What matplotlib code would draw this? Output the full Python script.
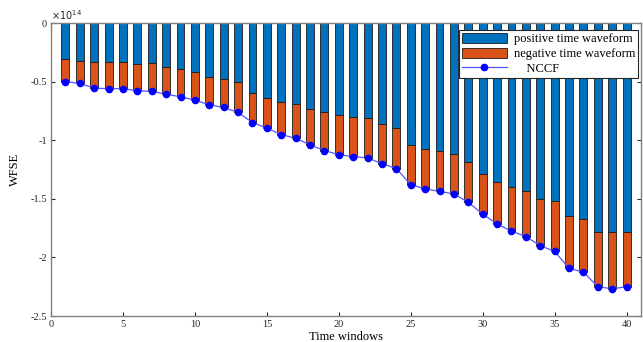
import matplotlib
matplotlib.use("Agg")
import matplotlib.pyplot as plt
import numpy as np
from matplotlib.ticker import FuncFormatter

plt.rcParams['font.family'] = ['Liberation Serif', 'DejaVu Serif']

# WFSE per time window, in units of 1e14
windows = np.arange(1, 41)
positive = [-0.31, -0.32, -0.336, -0.336, -0.33, -0.348, -0.339, -0.373, -0.39, -0.419,
            -0.459, -0.481, -0.507, -0.595, -0.638, -0.67, -0.687, -0.73, -0.761, -0.785,
            -0.80, -0.809, -0.858, -0.90, -1.04, -1.074, -1.091, -1.117, -1.182, -1.287,
            -1.353, -1.399, -1.433, -1.501, -1.521, -1.647, -1.672, -1.78, -1.78, -1.78]
nccf = [-0.50, -0.515, -0.556, -0.56, -0.56, -0.578, -0.584, -0.607, -0.63, -0.658,
        -0.698, -0.72, -0.763, -0.849, -0.897, -0.952, -0.983, -1.04, -1.088, -1.124,
        -1.14, -1.151, -1.20, -1.242, -1.379, -1.416, -1.436, -1.459, -1.53, -1.631,
        -1.715, -1.775, -1.823, -1.90, -1.949, -2.094, -2.125, -2.25, -2.268, -2.25]
scale = 1e14

pos = np.array(positive) * scale
tot = np.array(nccf) * scale
neg = tot - pos

fig = plt.figure(figsize=(6.43, 3.42), dpi=100)
ax = fig.add_axes([0.0793, 0.076, 0.9176, 0.8567])

b1 = ax.bar(windows, pos, width=0.55, color='#0072BD', edgecolor='#1a1a1a', linewidth=0.6,
            zorder=2)
b2 = ax.bar(windows, neg, bottom=pos, width=0.55, color='#D95319', edgecolor='#1a1a1a',
            linewidth=0.6, zorder=2)
ln, = ax.plot(windows, tot, color='#5555ff', lw=0.9, marker='o', markersize=4.5,
              markerfacecolor='#0000ff', markeredgecolor='#0000ff', zorder=3)

ax.set_xlim(0, 41)
ax.set_ylim(-2.5 * scale, 0)
ax.set_xticks(np.arange(0, 41, 5))
ax.set_yticks(np.arange(-2.5, 0.01, 0.5) * scale)
ax.yaxis.set_major_formatter(FuncFormatter(lambda v, p: '%g' % round(v / scale, 2)))
ax.tick_params(direction='in', length=3, width=0.8, labelsize=7.5, colors='#262626',
               top=True, right=True, pad=3)
for s in ax.spines.values():
    s.set_color('#808080')
    s.set_linewidth(1.0)

ax.text(0.0, 1.005, r'$\times10^{14}$', transform=ax.transAxes, fontsize=7,
        ha='left', va='bottom', color='#262626')
ax.set_xlabel('Time windows', fontsize=9, labelpad=1)
ax.set_ylabel('WFSE', fontsize=9, labelpad=7)

leg = ax.legend([b1, b2, ln],
                ['positive time waveform', 'negative time waveform', '    NCCF'],
                loc='upper right', bbox_to_anchor=(0.995, 0.976), fontsize=9,
                frameon=True, fancybox=False, edgecolor='#262626', framealpha=1,
                handlelength=3.6, handleheight=0.9, borderpad=0.2, labelspacing=0.2,
                handletextpad=0.6, borderaxespad=0)
leg.get_frame().set_linewidth(0.8)

fig.savefig('out.png', dpi=100)
